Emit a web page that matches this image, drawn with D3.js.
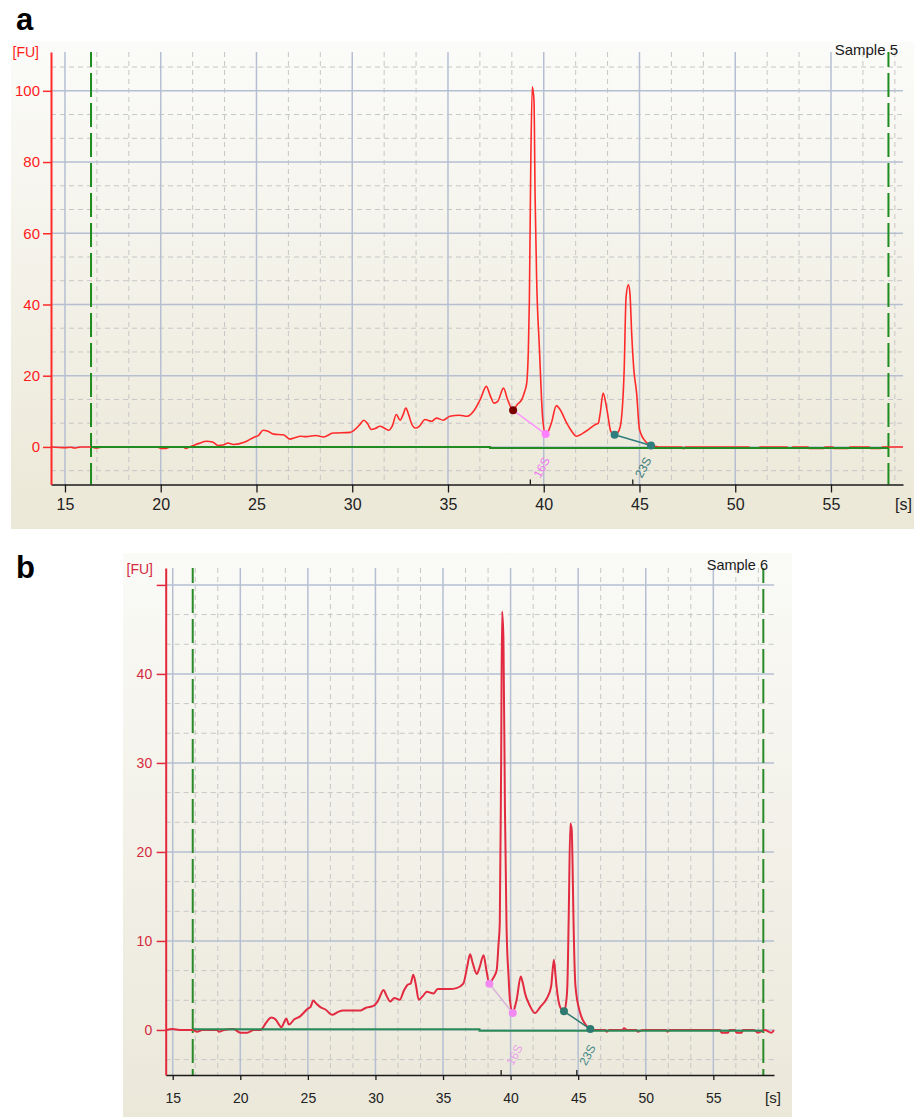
<!DOCTYPE html>
<html><head><meta charset="utf-8">
<script src="https://cdn.jsdelivr.net/npm/d3@7"></script>
<style>body{margin:0;background:#fff;} svg{display:block;}</style>
</head><body>
<svg id="c" width="914" height="1117"></svg>
<script>
// ---------------- DATA ----------------
const xTicks = [15, 20, 25, 30, 35, 40, 45, 50, 55];
const xTickLabels = ["15", "20", "25", "30", "35", "40", "45", "50", "55"];
const yTicksA = [0, 20, 40, 60, 80, 100];
const yTickLabelsA = ["0", "20", "40", "60", "80", "100"];
const yTicksB = [0, 10, 20, 30, 40, 50];
const yTickLabelsB = ["0", "10", "20", "30", "40", ""];
const panelLetters = ["a", "b"];
const sampleNames = ["Sample 5", "Sample 6"];
const peakNames = ["16S", "23S"];

// electropherogram, Sample 5: [time s, fluorescence FU]
const sampleA = [[14.3,0],[15.0,-0.2],[15.3,-0.1],[15.5,-0.3],[15.8,0],[16.4,0],[16.6,-0.3],[17.0,0],[18.5,-0.1],[18.7,0],[19.8,0],[20.0,-0.4],[20.3,-0.4],[20.5,0],[21.2,0],[21.3,-0.4],[21.5,0],[21.7,0.4],[22.0,1.0],[22.4,1.6],[22.7,1.4],[23.0,0.4],[23.3,0.6],[23.5,1.1],[23.8,0.7],[24.4,1.4],[24.9,2.8],[25.1,3.2],[25.35,4.7],[25.6,4.4],[25.9,3.6],[26.4,3.4],[26.75,2.2],[27.0,2.6],[27.3,3.0],[27.6,2.9],[28.1,3.2],[28.5,2.8],[29.0,3.9],[29.9,4.1],[30.1,4.7],[30.4,6.3],[30.6,7.5],[30.8,6.5],[31.0,4.9],[31.2,5.2],[31.45,5.8],[31.7,5.2],[31.9,4.7],[32.1,6.0],[32.3,9.1],[32.5,7.5],[32.65,9.0],[32.8,10.9],[32.95,9.0],[33.1,6.5],[33.3,5.3],[33.5,5.8],[33.8,7.7],[34.15,7.2],[34.4,8.1],[34.75,7.5],[35.1,8.6],[35.6,8.9],[36.0,8.6],[36.4,10.5],[36.7,13.5],[37.0,17.0],[37.2,14.5],[37.4,12.3],[37.6,12.8],[37.9,16.5],[38.1,13.5],[38.4,10.3],[38.6,11.8],[38.85,13.3],[39.0,15.5],[39.11,17.9],[39.2,28],[39.25,41.3],[39.32,77.8],[39.4,101.1],[39.49,97.4],[39.55,70],[39.63,46.9],[39.77,28.2],[39.95,7.7],[40.1,3.4],[40.25,4.5],[40.4,6.7],[40.66,11.6],[40.85,10.5],[41.2,6.7],[41.45,4.5],[41.7,3.0],[42.2,4.4],[42.7,6.3],[42.85,6.7],[42.95,9.5],[43.1,15.1],[43.3,10.5],[43.5,4.4],[43.7,3.4],[43.85,3.9],[44.0,5.8],[44.2,21.7],[44.3,42.2],[44.42,45.5],[44.5,43.2],[44.6,31.0],[44.7,22],[44.85,15.1],[45.0,4.9],[45.35,1.3],[45.6,0.4],[45.8,0.2],[46.0,0],[47.2,0],[47.3,-0.5],[47.4,0],[50.7,0],[50.8,-0.3],[51.2,-0.3],[51.3,0],[52.7,0],[52.75,-0.3],[52.95,-0.3],[53.0,0],[53.8,0],[53.85,-0.4],[54.6,-0.4],[54.7,0],[55.1,0],[55.15,-0.4],[55.9,-0.4],[56.0,0],[57.0,0],[57.05,-0.4],[57.6,-0.4],[57.7,0],[58.76,0]];

// electropherogram, Sample 6
const sampleB = [[14.5,0],[15.0,0.1],[15.5,0],[16.5,0],[16.8,-0.2],[17.2,0],[18.3,0],[18.4,-0.2],[18.8,0],[19.5,0.1],[20.0,-0.3],[20.5,-0.3],[21.0,0],[21.5,0],[21.6,0.1],[21.9,0.8],[22.3,1.4],[22.6,1.2],[22.8,0.75],[23.05,0.3],[23.25,0.9],[23.4,1.3],[23.6,0.6],[24.0,1.2],[24.4,1.5],[25.0,2.4],[25.2,2.6],[25.4,3.3],[25.6,3.0],[25.9,2.6],[26.3,2.3],[26.8,1.7],[27.2,2.0],[27.6,2.2],[28.3,2.2],[28.9,2.2],[29.3,2.5],[29.85,2.7],[30.2,3.3],[30.6,4.5],[30.8,3.9],[31.1,3.2],[31.4,3.6],[31.8,3.4],[32.1,4.4],[32.4,5.1],[32.6,5.2],[32.8,6.2],[33.0,5.0],[33.2,3.4],[33.5,3.8],[33.8,4.3],[34.3,4.1],[34.6,4.6],[35.0,4.6],[35.5,4.6],[36.0,4.7],[36.5,5.2],[36.8,7.2],[37.0,8.5],[37.2,7.5],[37.5,6.3],[37.7,7.0],[38.0,8.4],[38.2,6.8],[38.43,5.2],[38.7,5.8],[38.97,6.7],[39.1,9.5],[39.2,12],[39.3,30],[39.37,47],[39.47,44],[39.58,25],[39.7,11.6],[39.85,6],[39.95,3.4],[40.16,1.9],[40.3,2.5],[40.45,3.4],[40.75,6.0],[40.9,5.3],[41.07,4.1],[41.4,2.8],[41.8,1.9],[42.2,2.6],[42.7,3.6],[43.0,4.9],[43.2,7.9],[43.3,6.5],[43.4,4.9],[43.66,2.6],[43.95,2.1],[44.1,3.0],[44.2,5.0],[44.3,12.7],[44.42,23.2],[44.52,22.5],[44.58,19],[44.65,12.7],[44.8,4.9],[45.15,1.9],[45.5,0.7],[45.9,0.1],[46.2,0],[47.0,0],[47.1,-0.2],[47.3,0],[48.3,0],[48.4,0.2],[48.6,0],[49.3,0],[49.4,-0.2],[49.8,0],[51.5,0],[51.6,-0.2],[51.8,0],[55.5,0],[55.6,-0.3],[56.1,-0.3],[56.2,0],[56.6,0],[56.7,-0.3],[57.1,-0.3],[57.2,0],[58.0,0],[58.3,-0.3],[58.8,0],[59.3,-0.3],[59.49,0]];

// baselines [time, FU]
const baselineA = [[16.36,0],[37.2,0],[37.2,-0.28],[58.0,-0.28]];
const baselineB = [[16.5,0.08],[37.7,0.08],[37.7,-0.08],[58.7,-0.08]];

// peak fragment start/end points: [startTime, startFU, endTime, endFU]
const fragmentsA = [[38.4,10.3,40.1,3.6],[43.7,3.4,45.6,0.4]];
const fragmentsB = [[38.43,5.2,40.16,1.9],[43.95,2.1,45.9,0.1]];

// migration-time markers on the time axis
const peakTimesA = [39.3, 44.65];
const peakTimesB = [39.3, 44.9];

// lower / upper marker cut-offs
const cutoffsA = [16.36, 58.0];
const cutoffsB = [16.48, 58.7];

// ---------------- DRAWING ----------------
const FONT = "Liberation Sans, Arial, sans-serif";
const svg = d3.select("#c");
const defs = svg.append("defs");
function grad(id, c0, c1) {
  const lg = defs.append("linearGradient").attr("id", id)
    .attr("x1", 0).attr("y1", 0).attr("x2", 0).attr("y2", 1);
  lg.append("stop").attr("offset", "0%").attr("stop-color", c0);
  lg.append("stop").attr("offset", "100%").attr("stop-color", c1);
}
grad("bgA", "#fbfbf9", "#ebe8d7");
grad("bgB", "#fafaf7", "#ebe8da");

const panels = [
  {
    letter: panelLetters[0], sample: sampleNames[0], data: sampleA, baseline: baselineA,
    fragments: fragmentsA, peakTimes: peakTimesA, cutoffs: cutoffsA,
    yTicks: yTicksA, yLabels: yTickLabelsA, yStep: 20,
    xDomain: [14.27, 58.76], yDomain: [-10.55, 110.9],
    L: { left: 51, right: 903, top: 52, bottom: 484.5, bg: [11, 42, 914, 529], grad: "bgA",
         letterX: 16, letterY: 30, letterSize: 31,
         fuX: 39, fuY: 57, fuSize: 14, sampleX: 898, sampleY: 55, sampleSize: 15,
         sX: 895, sY: 510, sSize: 16,
         xTick: 8, xPad: 6, xFont: 16, yTick: 8, yPad: 3, yFont: 15,
         labelColor: "#ff1a1a", axisColor: "#ff2a2a", lineColor: "#ff2a2a", lineWidth: 1.6,
         green: "#1e8c1e", base: "#228b22",
         labelTimes: [39.9, 45.2], labelDy: 17, labelSize: 12,
         c16start: "#7a0000", c16: "#ff80ff", c16line: "#ff90ff", c23: "#2f7d7d",
         t16: "#ee7aee", t23: "#3a7a7a" }
  },
  {
    letter: panelLetters[1], sample: sampleNames[1], data: sampleB, baseline: baselineB,
    fragments: fragmentsB, peakTimes: peakTimesB, cutoffs: cutoffsB,
    yTicks: yTicksB, yLabels: yTickLabelsB, yStep: 10,
    xDomain: [14.48, 59.49], yDomain: [-5.06, 51.9],
    L: { left: 165.7, right: 774, top: 568, bottom: 1075, bg: [123, 553, 792, 1117], grad: "bgB",
         letterX: 16, letterY: 578, letterSize: 31,
         fuX: 153, fuY: 574, fuSize: 14, sampleX: 768, sampleY: 570, sampleSize: 14.5,
         sX: 765, sY: 1103, sSize: 15,
         xTick: 5, xPad: 13, xFont: 14, yTick: 9, yPad: 4.5, yFont: 14,
         labelColor: "#d42a3e", axisColor: "#e3283c", lineColor: "#e22a40", lineWidth: 2,
         green: "#2a8a2a", base: "#2a8a55",
         labelTimes: [40.29, 45.69], labelDy: 20, labelSize: 12,
         c16start: "#f08af0", c16: "#f08af0", c16line: "#d8b0d8", c23: "#2f7a70",
         t16: "#e8a2e8", t23: "#4a8a8a" }
  }
];

function drawPanel(p) {
  const L = p.L;
  const x = d3.scaleLinear().domain(p.xDomain).range([L.left, L.right]);
  const y = d3.scaleLinear().domain(p.yDomain).range([L.bottom, L.top]);
  const g = svg.append("g");

  g.append("rect").attr("x", L.bg[0]).attr("y", L.bg[1])
    .attr("width", L.bg[2] - L.bg[0]).attr("height", L.bg[3] - L.bg[1])
    .attr("fill", `url(#${L.grad})`);

  // minor grid (thirds of major steps)
  const xs = 5 / 3;
  const xMinor = d3.range(-3, 31).filter(k => ((k % 3) + 3) % 3 !== 0)
    .map(k => 15 + k * xs).filter(v => v > p.xDomain[0] && v < p.xDomain[1]);
  const ys = p.yStep / 3;
  const yMinor = d3.range(Math.floor(p.yDomain[0] / ys), Math.ceil(p.yDomain[1] / ys) + 1)
    .filter(k => ((k % 3) + 3) % 3 !== 0).map(k => k * ys)
    .filter(v => v > p.yDomain[0] && v < p.yDomain[1]);

  g.selectAll(".vmin").data(xMinor).join("line")
    .attr("x1", d => x(d)).attr("x2", d => x(d)).attr("y1", L.top).attr("y2", L.bottom)
    .attr("stroke", "#c6c6c6").attr("stroke-width", 1).attr("stroke-dasharray", "5,4");
  g.selectAll(".hmin").data(yMinor).join("line")
    .attr("x1", L.left).attr("x2", L.right).attr("y1", d => y(d)).attr("y2", d => y(d))
    .attr("stroke", "#c6c6c6").attr("stroke-width", 1).attr("stroke-dasharray", "5,4");
  g.selectAll(".vmaj").data(xTicks).join("line")
    .attr("x1", d => x(d)).attr("x2", d => x(d)).attr("y1", L.top).attr("y2", L.bottom)
    .attr("stroke", "#b6bfd2").attr("stroke-width", 1.5);
  g.selectAll(".hmaj").data(p.yTicks).join("line")
    .attr("x1", L.left).attr("x2", L.right).attr("y1", d => y(d)).attr("y2", d => y(d))
    .attr("stroke", "#b6bfd2").attr("stroke-width", 1.5);

  // cut-off markers
  g.selectAll(".cut").data(p.cutoffs).join("line")
    .attr("x1", d => x(d)).attr("x2", d => x(d)).attr("y1", L.top).attr("y2", L.bottom)
    .attr("stroke", L.green).attr("stroke-width", 2).attr("stroke-dasharray", "24,6")
    .attr("stroke-dashoffset", 9);

  // signal
  const line = d3.line().x(d => x(d[0])).y(d => y(d[1])).curve(d3.curveMonotoneX);
  g.append("path").datum(p.data).attr("d", line).attr("fill", "none")
    .attr("stroke", L.lineColor).attr("stroke-width", L.lineWidth).attr("stroke-linejoin", "round");

  // baseline
  const bl = d3.line().x(d => x(d[0])).y(d => y(d[1]));
  g.append("path").datum(p.baseline).attr("d", bl).attr("fill", "none")
    .attr("stroke", L.base).attr("stroke-width", 2);

  // fragments
  p.fragments.forEach((f, i) => {
    const lc = i === 0 ? L.c16line : L.c23;
    const cs = i === 0 ? L.c16start : L.c23;
    const ce = i === 0 ? L.c16 : L.c23;
    g.append("line").attr("x1", x(f[0])).attr("y1", y(f[1])).attr("x2", x(f[2])).attr("y2", y(f[3]))
      .attr("stroke", lc).attr("stroke-width", 1.5);
    g.append("circle").attr("cx", x(f[0])).attr("cy", y(f[1])).attr("r", 4).attr("fill", cs);
    g.append("circle").attr("cx", x(f[2])).attr("cy", y(f[3])).attr("r", 4).attr("fill", ce);
    g.append("text")
      .attr("transform", `translate(${x(L.labelTimes[i])},${L.bottom - L.labelDy}) rotate(-62)`)
      .attr("text-anchor", "middle").attr("dominant-baseline", "central")
      .attr("font-family", FONT).attr("font-size", L.labelSize)
      .attr("fill", i === 0 ? L.t16 : L.t23).text(peakNames[i]);
  });

  // axes
  const gx = g.append("g").attr("transform", `translate(0,${L.bottom})`)
    .call(d3.axisBottom(x).tickValues(xTicks).tickFormat((d, i) => xTickLabels[i])
      .tickSizeInner(L.xTick).tickSizeOuter(0).tickPadding(L.xPad));
  gx.attr("font-family", FONT).attr("font-size", L.xFont);
  gx.select(".domain").attr("stroke", "#1a1a1a").attr("stroke-width", 1.5);
  gx.selectAll(".tick line").attr("stroke", "#1a1a1a").attr("stroke-width", 1.3);
  gx.selectAll(".tick text").attr("fill", "#222");
  // migration markers (small up-ticks)
  g.selectAll(".pk").data(p.peakTimes).join("line")
    .attr("x1", d => x(d)).attr("x2", d => x(d)).attr("y1", L.bottom).attr("y2", L.bottom - 5)
    .attr("stroke", "#1a1a1a").attr("stroke-width", 1.3);

  const gy = g.append("g").attr("transform", `translate(${L.left},0)`)
    .call(d3.axisLeft(y).tickValues(p.yTicks).tickFormat((d, i) => p.yLabels[i])
      .tickSizeInner(L.yTick).tickSizeOuter(0).tickPadding(L.yPad));
  gy.attr("font-family", FONT).attr("font-size", L.yFont);
  gy.select(".domain").attr("stroke", L.axisColor).attr("stroke-width", 2);
  gy.selectAll(".tick line").attr("stroke", L.axisColor).attr("stroke-width", 1.5);
  gy.selectAll(".tick text").attr("fill", L.labelColor);

  // texts
  g.append("text").attr("x", L.fuX).attr("y", L.fuY).attr("text-anchor", "end")
    .attr("font-family", FONT).attr("font-size", L.fuSize).attr("fill", L.labelColor).text("[FU]");
  g.append("text").attr("x", L.sampleX).attr("y", L.sampleY).attr("text-anchor", "end")
    .attr("font-family", FONT).attr("font-size", L.sampleSize).attr("fill", "#1a1a1a").text(p.sample);
  g.append("text").attr("x", L.sX).attr("y", L.sY)
    .attr("font-family", FONT).attr("font-size", L.sSize).attr("fill", "#222").text("[s]");
  svg.append("text").attr("x", L.letterX).attr("y", L.letterY)
    .attr("font-family", FONT).attr("font-weight", "bold").attr("font-size", L.letterSize)
    .attr("fill", "#000").text(p.letter);
}

panels.forEach(drawPanel);
</script>
</body></html>
